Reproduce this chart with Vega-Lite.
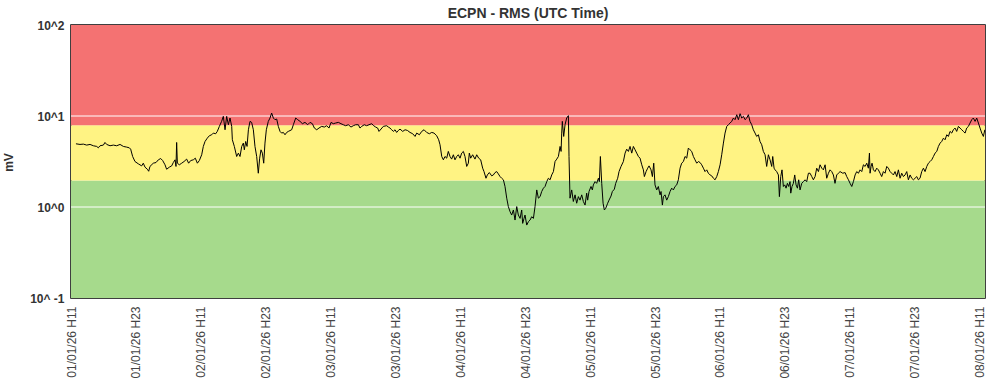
{
  "$schema": "https://vega.github.io/schema/vega-lite/v6.json",
  "autosize": {"type": "none"},
  "width": 914,
  "height": 273,
  "padding": {"left": 71, "top": 25, "right": 1, "bottom": 89},
  "background": "white",
  "title": {"text": "ECPN - RMS (UTC Time)", "fontSize": 14, "fontWeight": "bold", "color": "#333333", "font": "Liberation Sans", "offset": -2, "anchor": "middle"},
  "config": {
    "view": {"stroke": "#000000", "strokeWidth": 1.5},
    "axis": {"domain": false, "ticks": false, "grid": false, "labelFont": "Liberation Sans", "titleFont": "Liberation Sans"},
    "axisY": {
      "title": "mV", "titleFontSize": 12, "titleFontWeight": "bold", "titleColor": "#333333",
      "titleX": -63, "titleY": 137, "titleAlign": "center", "titleBaseline": "middle", "titleAngle": -90,
      "labelFontSize": 12, "labelFontWeight": "bold", "labelColor": "#333333", "labelPadding": 7, "labelFlush": false
    }
  },
  "datasets": {
    "bands": [
      {"lo": 0.1, "hi": 1.95, "zone": "green"},
      {"lo": 1.95, "hi": 7.9, "zone": "yellow"},
      {"lo": 7.9, "hi": 100, "zone": "red"}
    ],
    "grid": [{"g": 1}, {"g": 10}],
    "rms": [
      {"t":"2026-01-01T11:55Z","v":4.95},{"t":"2026-01-01T12:40Z","v":4.87},{"t":"2026-01-01T13:17Z","v":4.91},{"t":"2026-01-01T13:54Z","v":4.79},{"t":"2026-01-01T14:31Z","v":4.87},{"t":"2026-01-01T15:08Z","v":4.71},{"t":"2026-01-01T15:45Z","v":4.63},{"t":"2026-01-01T16:03Z","v":4.47},{"t":"2026-01-01T16:22Z","v":4.71},{"t":"2026-01-01T16:59Z","v":4.79},{"t":"2026-01-01T17:17Z","v":5.12},{"t":"2026-01-01T17:36Z","v":4.87},{"t":"2026-01-01T18:13Z","v":4.71},{"t":"2026-01-01T18:50Z","v":4.79},{"t":"2026-01-01T19:27Z","v":4.71},{"t":"2026-01-01T20:04Z","v":4.87},{"t":"2026-01-01T20:41Z","v":4.63},{"t":"2026-01-01T21:18Z","v":4.55},{"t":"2026-01-01T21:47Z","v":4.47},{"t":"2026-01-01T22:02Z","v":4.32},{"t":"2026-01-01T22:24Z","v":3.59},{"t":"2026-01-01T22:50Z","v":3.16},{"t":"2026-01-01T23:27Z","v":2.98},
      {"t":"2026-01-02T00:04Z","v":2.83},{"t":"2026-01-02T00:22Z","v":3.03},{"t":"2026-01-02T00:41Z","v":2.74},{"t":"2026-01-02T01:07Z","v":2.60},{"t":"2026-01-02T01:22Z","v":2.47},{"t":"2026-01-02T01:36Z","v":2.79},{"t":"2026-01-02T02:13Z","v":3.03},{"t":"2026-01-02T02:43Z","v":3.08},{"t":"2026-01-02T03:09Z","v":3.30},{"t":"2026-01-02T03:35Z","v":3.41},{"t":"2026-01-02T03:57Z","v":3.24},{"t":"2026-01-02T04:23Z","v":2.91},{"t":"2026-01-02T04:41Z","v":2.60},{"t":"2026-01-02T05:11Z","v":2.74},{"t":"2026-01-02T05:37Z","v":2.83},{"t":"2026-01-02T05:55Z","v":3.08},{"t":"2026-01-02T06:14Z","v":3.30},{"t":"2026-01-02T06:25Z","v":2.79},{"t":"2026-01-02T06:32Z","v":5.12},{"t":"2026-01-02T06:40Z","v":3.03},{"t":"2026-01-02T07:02Z","v":2.91},{"t":"2026-01-02T07:28Z","v":3.03},{"t":"2026-01-02T07:54Z","v":3.16},{"t":"2026-01-02T08:23Z","v":3.36},{"t":"2026-01-02T08:45Z","v":3.03},{"t":"2026-01-02T09:08Z","v":3.24},{"t":"2026-01-02T09:37Z","v":3.30},{"t":"2026-01-02T09:59Z","v":3.44},{"t":"2026-01-02T10:22Z","v":3.03},{"t":"2026-01-02T10:44Z","v":3.24},{"t":"2026-01-02T11:10Z","v":3.75},{"t":"2026-01-02T11:28Z","v":4.63},{"t":"2026-01-02T11:47Z","v":5.25},{"t":"2026-01-02T12:12Z","v":5.71},{"t":"2026-01-02T12:35Z","v":6.07},{"t":"2026-01-02T13:01Z","v":6.22},{"t":"2026-01-02T13:19Z","v":6.49},{"t":"2026-01-02T13:45Z","v":6.38},{"t":"2026-01-02T14:03Z","v":6.77},{"t":"2026-01-02T14:26Z","v":7.69},{"t":"2026-01-02T14:51Z","v":8.73},{"t":"2026-01-02T15:10Z","v":9.91},
      {"t":"2026-01-02T15:29Z","v":7.06},{"t":"2026-01-02T15:47Z","v":9.91},{"t":"2026-01-02T16:06Z","v":8.02},{"t":"2026-01-02T16:24Z","v":9.50},{"t":"2026-01-02T16:43Z","v":7.69},{"t":"2026-01-02T16:50Z","v":5.48},{"t":"2026-01-02T17:12Z","v":4.63},{"t":"2026-01-02T17:38Z","v":3.59},{"t":"2026-01-02T17:57Z","v":3.91},{"t":"2026-01-02T18:15Z","v":3.59},{"t":"2026-01-02T18:34Z","v":4.63},{"t":"2026-01-02T18:52Z","v":5.04},{"t":"2026-01-02T19:03Z","v":4.25},{"t":"2026-01-02T19:18Z","v":5.25},{"t":"2026-01-02T19:33Z","v":4.63},{"t":"2026-01-02T19:48Z","v":7.06},{"t":"2026-01-02T20:06Z","v":8.73},{"t":"2026-01-02T20:24Z","v":8.51},{"t":"2026-01-02T20:43Z","v":7.06},{"t":"2026-01-02T21:01Z","v":4.63},{"t":"2026-01-02T21:20Z","v":3.59},{"t":"2026-01-02T21:38Z","v":2.35},{"t":"2026-01-02T21:53Z","v":3.44},{"t":"2026-01-02T22:08Z","v":4.25},{"t":"2026-01-02T22:23Z","v":3.91},{"t":"2026-01-02T22:38Z","v":3.03},{"t":"2026-01-02T22:52Z","v":5.04},{"t":"2026-01-02T23:07Z","v":7.06},{"t":"2026-01-02T23:29Z","v":8.73},{"t":"2026-01-02T23:48Z","v":9.50},
      {"t":"2026-01-03T00:06Z","v":10.78},{"t":"2026-01-03T00:25Z","v":9.50},{"t":"2026-01-03T00:43Z","v":9.11},{"t":"2026-01-03T01:02Z","v":9.26},{"t":"2026-01-03T01:20Z","v":7.69},{"t":"2026-01-03T01:39Z","v":6.77},{"t":"2026-01-03T01:57Z","v":6.49},{"t":"2026-01-03T02:16Z","v":6.60},{"t":"2026-01-03T02:34Z","v":6.22},{"t":"2026-01-03T02:53Z","v":6.60},{"t":"2026-01-03T03:11Z","v":6.77},{"t":"2026-01-03T03:48Z","v":7.06},{"t":"2026-01-03T04:07Z","v":8.02},{"t":"2026-01-03T04:33Z","v":9.50},{"t":"2026-01-03T04:55Z","v":9.11},{"t":"2026-01-03T05:21Z","v":8.73},{"t":"2026-01-03T05:47Z","v":8.23},{"t":"2026-01-03T06:16Z","v":8.51},{"t":"2026-01-03T06:46Z","v":8.02},{"t":"2026-01-03T07:12Z","v":8.51},{"t":"2026-01-03T07:38Z","v":8.23},{"t":"2026-01-03T08:00Z","v":7.37},{"t":"2026-01-03T08:26Z","v":7.06},{"t":"2026-01-03T08:51Z","v":7.37},{"t":"2026-01-03T09:21Z","v":7.69},{"t":"2026-01-03T09:51Z","v":7.56},{"t":"2026-01-03T10:16Z","v":7.82},{"t":"2026-01-03T10:42Z","v":7.37},{"t":"2026-01-03T11:05Z","v":8.51},{"t":"2026-01-03T11:30Z","v":8.23},{"t":"2026-01-03T11:56Z","v":8.37},{"t":"2026-01-03T12:26Z","v":8.51},{"t":"2026-01-03T12:55Z","v":8.23},{"t":"2026-01-03T13:21Z","v":8.02},{"t":"2026-01-03T13:47Z","v":7.82},{"t":"2026-01-03T14:17Z","v":8.02},{"t":"2026-01-03T14:46Z","v":7.56},{"t":"2026-01-03T15:12Z","v":7.82},{"t":"2026-01-03T15:38Z","v":8.02},{"t":"2026-01-03T16:08Z","v":8.02},{"t":"2026-01-03T16:26Z","v":7.37},{"t":"2026-01-03T16:45Z","v":7.69},{"t":"2026-01-03T17:14Z","v":8.02},{"t":"2026-01-03T17:40Z","v":7.82},{"t":"2026-01-03T18:06Z","v":8.02},{"t":"2026-01-03T18:36Z","v":8.23},{"t":"2026-01-03T18:58Z","v":7.82},{"t":"2026-01-03T19:20Z","v":7.56},{"t":"2026-01-03T19:42Z","v":7.37},{"t":"2026-01-03T19:57Z","v":6.77},
      {"t":"2026-01-03T20:45Z","v":7.69},{"t":"2026-01-03T21:22Z","v":7.82},{"t":"2026-01-03T21:41Z","v":7.56},{"t":"2026-01-03T21:59Z","v":7.37},{"t":"2026-01-03T22:18Z","v":7.06},{"t":"2026-01-03T22:36Z","v":6.77},{"t":"2026-01-03T22:55Z","v":7.06},{"t":"2026-01-03T23:13Z","v":6.60},{"t":"2026-01-03T23:32Z","v":6.94},{"t":"2026-01-03T23:50Z","v":7.18},
      {"t":"2026-01-04T00:20Z","v":6.77},{"t":"2026-01-04T00:46Z","v":7.06},{"t":"2026-01-04T01:12Z","v":6.94},{"t":"2026-01-04T01:41Z","v":6.60},{"t":"2026-01-04T02:11Z","v":6.38},{"t":"2026-01-04T02:37Z","v":5.96},{"t":"2026-01-04T02:55Z","v":6.49},{"t":"2026-01-04T03:25Z","v":6.22},{"t":"2026-01-04T03:51Z","v":6.77},{"t":"2026-01-04T04:17Z","v":7.06},{"t":"2026-01-04T04:46Z","v":6.60},{"t":"2026-01-04T05:16Z","v":6.38},{"t":"2026-01-04T05:42Z","v":6.60},{"t":"2026-01-04T06:07Z","v":6.49},{"t":"2026-01-04T06:37Z","v":6.07},{"t":"2026-01-04T06:59Z","v":5.48},{"t":"2026-01-04T07:14Z","v":4.83},{"t":"2026-01-04T07:33Z","v":3.59},{"t":"2026-01-04T07:51Z","v":3.30},{"t":"2026-01-04T08:09Z","v":3.59},{"t":"2026-01-04T08:28Z","v":3.44},{"t":"2026-01-04T08:46Z","v":4.08},{"t":"2026-01-04T09:05Z","v":3.59},{"t":"2026-01-04T09:23Z","v":3.36},{"t":"2026-01-04T09:42Z","v":3.75},{"t":"2026-01-04T10:00Z","v":3.30},{"t":"2026-01-04T10:19Z","v":3.59},{"t":"2026-01-04T10:37Z","v":3.75},{"t":"2026-01-04T10:56Z","v":3.44},{"t":"2026-01-04T11:14Z","v":3.91},{"t":"2026-01-04T11:33Z","v":4.08},{"t":"2026-01-04T11:51Z","v":3.59},{"t":"2026-01-04T12:10Z","v":2.79},{"t":"2026-01-04T12:28Z","v":3.03},{"t":"2026-01-04T12:39Z","v":3.91},{"t":"2026-01-04T12:54Z","v":3.44},{"t":"2026-01-04T13:16Z","v":3.75},{"t":"2026-01-04T13:42Z","v":3.36},{"t":"2026-01-04T14:01Z","v":3.75},{"t":"2026-01-04T14:23Z","v":3.44},{"t":"2026-01-04T14:45Z","v":3.30},{"t":"2026-01-04T15:07Z","v":2.67},{"t":"2026-01-04T15:22Z","v":2.45},{"t":"2026-01-04T15:44Z","v":2.07},{"t":"2026-01-04T15:59Z","v":2.25},{"t":"2026-01-04T16:21Z","v":2.39},{"t":"2026-01-04T16:47Z","v":2.20},{"t":"2026-01-04T17:06Z","v":2.25},{"t":"2026-01-04T17:24Z","v":2.39},{"t":"2026-01-04T17:43Z","v":2.45},{"t":"2026-01-04T18:01Z","v":2.31},{"t":"2026-01-04T18:20Z","v":2.16},{"t":"2026-01-04T18:38Z","v":2.07},{"t":"2026-01-04T18:57Z","v":1.99},{"t":"2026-01-04T19:15Z","v":1.68},{"t":"2026-01-04T19:34Z","v":1.25},{"t":"2026-01-04T19:52Z","v":1.01},{"t":"2026-01-04T20:11Z","v":0.888},{"t":"2026-01-04T20:29Z","v":0.816},{"t":"2026-01-04T20:48Z","v":0.927},{"t":"2026-01-04T21:06Z","v":0.719},{"t":"2026-01-04T21:25Z","v":1.01},{"t":"2026-01-04T21:43Z","v":0.816},{"t":"2026-01-04T22:02Z","v":0.750},{"t":"2026-01-04T22:20Z","v":0.927},{"t":"2026-01-04T22:31Z","v":0.661},{"t":"2026-01-04T22:46Z","v":0.750},{"t":"2026-01-04T22:57Z","v":0.816},{"t":"2026-01-04T23:16Z","v":0.633},{"t":"2026-01-04T23:34Z","v":0.689},{"t":"2026-01-04T23:53Z","v":0.719},
      {"t":"2026-01-05T00:11Z","v":0.782},{"t":"2026-01-05T00:30Z","v":0.750},{"t":"2026-01-05T00:48Z","v":1.01},{"t":"2026-01-05T01:07Z","v":1.54},{"t":"2026-01-05T01:25Z","v":1.25},{"t":"2026-01-05T01:44Z","v":1.30},{"t":"2026-01-05T02:02Z","v":1.48},{"t":"2026-01-05T02:21Z","v":1.61},{"t":"2026-01-05T02:39Z","v":1.68},{"t":"2026-01-05T02:58Z","v":1.90},{"t":"2026-01-05T03:16Z","v":2.07},{"t":"2026-01-05T03:35Z","v":1.99},{"t":"2026-01-05T03:53Z","v":2.25},{"t":"2026-01-05T04:12Z","v":2.45},{"t":"2026-01-05T04:30Z","v":3.16},{"t":"2026-01-05T04:49Z","v":3.36},{"t":"2026-01-05T05:07Z","v":3.59},{"t":"2026-01-05T05:26Z","v":4.63},{"t":"2026-01-05T05:37Z","v":4.08},{"t":"2026-01-05T05:44Z","v":6.49},{"t":"2026-01-05T05:51Z","v":8.73},{"t":"2026-01-05T06:06Z","v":5.96},{"t":"2026-01-05T06:21Z","v":8.02},{"t":"2026-01-05T06:39Z","v":9.50},{"t":"2026-01-05T06:58Z","v":10.08},{"t":"2026-01-05T07:05Z","v":3.59},{"t":"2026-01-05T07:16Z","v":1.25},{"t":"2026-01-05T07:35Z","v":1.54},{"t":"2026-01-05T07:53Z","v":1.15},{"t":"2026-01-05T08:12Z","v":1.36},{"t":"2026-01-05T08:30Z","v":1.10},{"t":"2026-01-05T08:49Z","v":1.30},{"t":"2026-01-05T09:07Z","v":1.19},{"t":"2026-01-05T09:26Z","v":1.36},{"t":"2026-01-05T09:44Z","v":1.15},{"t":"2026-01-05T10:03Z","v":1.05},{"t":"2026-01-05T10:21Z","v":1.42},{"t":"2026-01-05T10:32Z","v":1.19},{"t":"2026-01-05T10:47Z","v":1.48},{"t":"2026-01-05T11:09Z","v":1.68},{"t":"2026-01-05T11:24Z","v":1.54},{"t":"2026-01-05T11:35Z","v":1.75},{"t":"2026-01-05T11:54Z","v":1.90},{"t":"2026-01-05T12:12Z","v":1.82},{"t":"2026-01-05T12:31Z","v":2.07},{"t":"2026-01-05T12:42Z","v":1.90},{"t":"2026-01-05T12:53Z","v":3.59},{"t":"2026-01-05T13:08Z","v":1.82},{"t":"2026-01-05T13:23Z","v":1.10},{"t":"2026-01-05T13:37Z","v":0.927},{"t":"2026-01-05T13:52Z","v":0.967},{"t":"2026-01-05T14:14Z","v":1.10},{"t":"2026-01-05T14:29Z","v":1.19},{"t":"2026-01-05T14:51Z","v":1.32},{"t":"2026-01-05T15:06Z","v":1.48},{"t":"2026-01-05T15:28Z","v":1.57},{"t":"2026-01-05T15:43Z","v":1.82},{"t":"2026-01-05T16:05Z","v":2.07},{"t":"2026-01-05T16:20Z","v":2.45},{"t":"2026-01-05T16:42Z","v":2.79},{"t":"2026-01-05T17:08Z","v":3.16},{"t":"2026-01-05T17:27Z","v":3.91},{"t":"2026-01-05T17:45Z","v":4.32},{"t":"2026-01-05T18:04Z","v":4.08},{"t":"2026-01-05T18:22Z","v":4.63},{"t":"2026-01-05T18:41Z","v":3.91},{"t":"2026-01-05T18:59Z","v":4.63},{"t":"2026-01-05T19:18Z","v":4.25},{"t":"2026-01-05T19:36Z","v":3.91},{"t":"2026-01-05T19:55Z","v":3.59},{"t":"2026-01-05T20:13Z","v":3.44},{"t":"2026-01-05T20:32Z","v":2.91},{"t":"2026-01-05T20:50Z","v":2.56},{"t":"2026-01-05T21:01Z","v":2.16},{"t":"2026-01-05T21:20Z","v":2.45},{"t":"2026-01-05T21:38Z","v":2.67},{"t":"2026-01-05T21:53Z","v":2.83},{"t":"2026-01-05T22:15Z","v":2.56},{"t":"2026-01-05T22:30Z","v":2.16},{"t":"2026-01-05T22:45Z","v":3.03},{"t":"2026-01-05T22:59Z","v":1.75},{"t":"2026-01-05T23:18Z","v":1.54},{"t":"2026-01-05T23:36Z","v":1.68},{"t":"2026-01-05T23:55Z","v":1.36},
      {"t":"2026-01-06T00:06Z","v":1.48},{"t":"2026-01-06T00:21Z","v":1.05},{"t":"2026-01-06T00:32Z","v":1.30},{"t":"2026-01-06T00:50Z","v":1.36},{"t":"2026-01-06T01:09Z","v":1.19},{"t":"2026-01-06T01:27Z","v":1.30},{"t":"2026-01-06T01:46Z","v":1.48},{"t":"2026-01-06T02:04Z","v":1.61},{"t":"2026-01-06T02:23Z","v":1.54},{"t":"2026-01-06T02:41Z","v":1.68},{"t":"2026-01-06T03:00Z","v":1.75},{"t":"2026-01-06T03:18Z","v":1.99},{"t":"2026-01-06T03:37Z","v":2.67},{"t":"2026-01-06T03:55Z","v":3.03},{"t":"2026-01-06T04:14Z","v":3.16},{"t":"2026-01-06T04:32Z","v":3.59},{"t":"2026-01-06T04:51Z","v":3.44},{"t":"2026-01-06T05:09Z","v":4.44},{"t":"2026-01-06T05:28Z","v":4.25},{"t":"2026-01-06T05:46Z","v":4.08},{"t":"2026-01-06T06:05Z","v":3.59},{"t":"2026-01-06T06:23Z","v":3.30},{"t":"2026-01-06T06:42Z","v":3.03},{"t":"2026-01-06T07:00Z","v":3.16},{"t":"2026-01-06T07:19Z","v":3.08},{"t":"2026-01-06T07:37Z","v":2.91},{"t":"2026-01-06T07:56Z","v":2.67},{"t":"2026-01-06T08:14Z","v":2.45},{"t":"2026-01-06T08:33Z","v":2.56},{"t":"2026-01-06T08:51Z","v":2.35},{"t":"2026-01-06T09:10Z","v":2.25},{"t":"2026-01-06T09:28Z","v":2.20},{"t":"2026-01-06T09:47Z","v":2.07},{"t":"2026-01-06T10:05Z","v":1.99},{"t":"2026-01-06T10:24Z","v":2.16},{"t":"2026-01-06T10:42Z","v":2.45},{"t":"2026-01-06T11:01Z","v":2.91},{"t":"2026-01-06T11:19Z","v":3.75},{"t":"2026-01-06T11:38Z","v":5.04},{"t":"2026-01-06T11:56Z","v":6.49},{"t":"2026-01-06T12:15Z","v":7.69},{"t":"2026-01-06T12:33Z","v":8.02},{"t":"2026-01-06T12:52Z","v":8.37},{"t":"2026-01-06T13:10Z","v":8.73},{"t":"2026-01-06T13:29Z","v":9.50},{"t":"2026-01-06T13:47Z","v":9.11},{"t":"2026-01-06T14:06Z","v":10.33},{"t":"2026-01-06T14:24Z","v":9.11},{"t":"2026-01-06T14:43Z","v":10.60},{"t":"2026-01-06T15:01Z","v":9.50},{"t":"2026-01-06T15:20Z","v":9.91},{"t":"2026-01-06T15:38Z","v":9.11},{"t":"2026-01-06T15:57Z","v":9.50},{"t":"2026-01-06T16:15Z","v":10.33},{"t":"2026-01-06T16:33Z","v":8.73},{"t":"2026-01-06T16:52Z","v":8.02},{"t":"2026-01-06T17:10Z","v":7.06},{"t":"2026-01-06T17:29Z","v":6.49},{"t":"2026-01-06T17:47Z","v":5.96},{"t":"2026-01-06T18:06Z","v":6.22},{"t":"2026-01-06T18:24Z","v":5.25},{"t":"2026-01-06T18:43Z","v":4.83},{"t":"2026-01-06T19:01Z","v":4.08},{"t":"2026-01-06T19:20Z","v":3.75},{"t":"2026-01-06T19:38Z","v":2.79},{"t":"2026-01-06T19:57Z","v":3.75},{"t":"2026-01-06T20:15Z","v":3.30},{"t":"2026-01-06T20:34Z","v":2.79},{"t":"2026-01-06T20:45Z","v":3.59},{"t":"2026-01-06T21:00Z","v":2.67},{"t":"2026-01-06T21:11Z","v":2.56},{"t":"2026-01-06T21:29Z","v":2.45},{"t":"2026-01-06T21:48Z","v":2.25},{"t":"2026-01-06T21:59Z","v":1.30},{"t":"2026-01-06T22:14Z","v":2.16},{"t":"2026-01-06T22:28Z","v":2.56},{"t":"2026-01-06T22:43Z","v":1.68},{"t":"2026-01-06T22:58Z","v":1.75},{"t":"2026-01-06T23:13Z","v":1.61},{"t":"2026-01-06T23:28Z","v":1.82},{"t":"2026-01-06T23:42Z","v":1.68},{"t":"2026-01-06T23:57Z","v":1.90},
      {"t":"2026-01-07T00:05Z","v":1.42},{"t":"2026-01-07T00:19Z","v":1.68},{"t":"2026-01-07T00:34Z","v":1.82},{"t":"2026-01-07T00:49Z","v":2.25},{"t":"2026-01-07T01:04Z","v":1.75},{"t":"2026-01-07T01:19Z","v":1.61},{"t":"2026-01-07T01:33Z","v":1.99},{"t":"2026-01-07T01:48Z","v":1.54},{"t":"2026-01-07T02:07Z","v":1.82},{"t":"2026-01-07T02:25Z","v":1.90},{"t":"2026-01-07T02:44Z","v":1.99},{"t":"2026-01-07T03:02Z","v":1.90},{"t":"2026-01-07T03:21Z","v":2.35},{"t":"2026-01-07T03:39Z","v":2.35},{"t":"2026-01-07T03:58Z","v":2.16},{"t":"2026-01-07T04:16Z","v":1.99},{"t":"2026-01-07T04:35Z","v":2.16},{"t":"2026-01-07T04:53Z","v":2.67},{"t":"2026-01-07T05:12Z","v":2.45},{"t":"2026-01-07T05:30Z","v":2.91},{"t":"2026-01-07T05:49Z","v":2.67},{"t":"2026-01-07T06:07Z","v":2.56},{"t":"2026-01-07T06:26Z","v":2.91},{"t":"2026-01-07T06:44Z","v":2.07},{"t":"2026-01-07T07:03Z","v":2.35},{"t":"2026-01-07T07:21Z","v":2.56},{"t":"2026-01-07T07:40Z","v":2.45},{"t":"2026-01-07T07:58Z","v":2.25},{"t":"2026-01-07T08:16Z","v":1.82},{"t":"2026-01-07T08:35Z","v":2.25},{"t":"2026-01-07T08:53Z","v":2.35},{"t":"2026-01-07T09:12Z","v":2.45},{"t":"2026-01-07T09:42Z","v":2.35},{"t":"2026-01-07T10:08Z","v":2.39},{"t":"2026-01-07T10:26Z","v":2.16},{"t":"2026-01-07T10:45Z","v":1.99},{"t":"2026-01-07T11:03Z","v":1.82},{"t":"2026-01-07T11:22Z","v":1.68},{"t":"2026-01-07T11:40Z","v":1.90},{"t":"2026-01-07T11:59Z","v":2.25},{"t":"2026-01-07T12:17Z","v":2.45},{"t":"2026-01-07T12:36Z","v":2.35},{"t":"2026-01-07T12:54Z","v":2.56},{"t":"2026-01-07T13:13Z","v":2.45},{"t":"2026-01-07T13:31Z","v":2.91},{"t":"2026-01-07T13:50Z","v":2.79},{"t":"2026-01-07T14:08Z","v":3.03},{"t":"2026-01-07T14:26Z","v":2.67},{"t":"2026-01-07T14:38Z","v":3.91},{"t":"2026-01-07T14:45Z","v":2.35},{"t":"2026-01-07T14:56Z","v":2.79},{"t":"2026-01-07T15:07Z","v":3.03},{"t":"2026-01-07T15:22Z","v":2.56},{"t":"2026-01-07T15:40Z","v":2.45},{"t":"2026-01-07T15:59Z","v":2.67},{"t":"2026-01-07T16:17Z","v":2.56},{"t":"2026-01-07T16:36Z","v":2.35},{"t":"2026-01-07T16:54Z","v":2.16},{"t":"2026-01-07T17:13Z","v":2.45},{"t":"2026-01-07T17:31Z","v":2.35},{"t":"2026-01-07T17:50Z","v":2.79},{"t":"2026-01-07T18:08Z","v":2.67},{"t":"2026-01-07T18:27Z","v":2.45},{"t":"2026-01-07T18:45Z","v":2.35},{"t":"2026-01-07T19:04Z","v":2.25},{"t":"2026-01-07T19:22Z","v":2.45},{"t":"2026-01-07T19:41Z","v":2.16},{"t":"2026-01-07T19:59Z","v":2.56},{"t":"2026-01-07T20:18Z","v":2.07},{"t":"2026-01-07T20:36Z","v":2.35},{"t":"2026-01-07T20:55Z","v":2.16},{"t":"2026-01-07T21:13Z","v":2.25},{"t":"2026-01-07T21:32Z","v":2.45},{"t":"2026-01-07T21:50Z","v":1.99},{"t":"2026-01-07T22:09Z","v":2.25},{"t":"2026-01-07T22:27Z","v":2.07},{"t":"2026-01-07T22:46Z","v":1.99},{"t":"2026-01-07T23:04Z","v":2.07},{"t":"2026-01-07T23:23Z","v":2.16},{"t":"2026-01-07T23:41Z","v":1.99},{"t":"2026-01-07T23:59Z","v":2.07},
      {"t":"2026-01-08T00:18Z","v":2.45},{"t":"2026-01-08T00:37Z","v":2.67},{"t":"2026-01-08T00:55Z","v":2.45},{"t":"2026-01-08T01:14Z","v":2.79},{"t":"2026-01-08T01:32Z","v":3.03},{"t":"2026-01-08T01:51Z","v":3.16},{"t":"2026-01-08T02:09Z","v":3.30},{"t":"2026-01-08T02:28Z","v":3.59},{"t":"2026-01-08T02:46Z","v":3.91},{"t":"2026-01-08T03:05Z","v":4.08},{"t":"2026-01-08T03:23Z","v":4.63},{"t":"2026-01-08T03:42Z","v":5.04},{"t":"2026-01-08T04:00Z","v":5.25},{"t":"2026-01-08T04:19Z","v":5.71},{"t":"2026-01-08T04:37Z","v":5.48},{"t":"2026-01-08T04:56Z","v":6.22},{"t":"2026-01-08T05:14Z","v":5.96},{"t":"2026-01-08T05:32Z","v":6.77},{"t":"2026-01-08T05:51Z","v":6.49},{"t":"2026-01-08T06:09Z","v":7.06},{"t":"2026-01-08T06:28Z","v":7.37},{"t":"2026-01-08T06:46Z","v":6.77},{"t":"2026-01-08T07:05Z","v":7.69},{"t":"2026-01-08T07:23Z","v":7.37},{"t":"2026-01-08T07:42Z","v":7.06},{"t":"2026-01-08T08:00Z","v":6.77},{"t":"2026-01-08T08:19Z","v":6.49},{"t":"2026-01-08T08:37Z","v":7.37},{"t":"2026-01-08T08:56Z","v":7.69},{"t":"2026-01-08T09:14Z","v":8.37},{"t":"2026-01-08T09:33Z","v":9.11},{"t":"2026-01-08T09:51Z","v":9.50},{"t":"2026-01-08T10:10Z","v":8.73},{"t":"2026-01-08T10:28Z","v":9.50},{"t":"2026-01-08T10:47Z","v":8.37},{"t":"2026-01-08T11:05Z","v":7.37},{"t":"2026-01-08T11:24Z","v":6.49},{"t":"2026-01-08T11:42Z","v":5.96},{"t":"2026-01-08T11:58Z","v":7.06}
    ]
  },
  "layer": [
    {
      "data": {"name": "bands"},
      "mark": {"type": "rect"},
      "encoding": {
        "y": {"field": "lo", "type": "quantitative", "title": "mV", "scale": {"type": "log", "domain": [0.1, 100]},
          "axis": {"title": "mV", "values": [0.1, 1, 10, 100], "labelExpr": "datum.value >= 50 ? '10^2' : datum.value >= 5 ? '10^1' : datum.value >= 0.5 ? '10^0' : '10^ -1'"}},
        "y2": {"field": "hi"},
        "color": {"field": "zone", "type": "nominal", "scale": {"domain": ["green", "yellow", "red"], "range": ["#a6da8c", "#fff383", "#f47272"]}, "legend": null}
      }
    },
    {
      "data": {"name": "grid"},
      "mark": {"type": "rule", "color": "#ffffff", "strokeWidth": 1},
      "encoding": {
        "y": {"field": "g", "type": "quantitative", "title": "mV",
          "axis": {"title": "mV", "values": [0.1, 1, 10, 100], "labelExpr": "datum.value >= 50 ? '10^2' : datum.value >= 5 ? '10^1' : datum.value >= 0.5 ? '10^0' : '10^ -1'"}}
      }
    },
    {
      "data": {"name": "rms"},
      "mark": {"type": "line", "color": "#000000", "strokeWidth": 1, "clip": true},
      "encoding": {
        "x": {
          "field": "t", "type": "temporal",
          "scale": {"type": "utc", "domain": [{"year": 2026, "month": 1, "date": 1, "hours": 11, "utc": true}, {"year": 2026, "month": 1, "date": 8, "hours": 12, "utc": true}]},
          "axis": {
            "title": null,
            "labelExpr": "utcFormat(datum.value, '%d/%m/%y H%H')",
            "labelAngle": -90, "labelFontSize": 12, "labelColor": "#444444", "labelPadding": 8, "labelFlush": false, "labelOverlap": false,
            "values": [
              {"year": 2026, "month": 1, "date": 1, "hours": 11, "utc": true},
              {"year": 2026, "month": 1, "date": 1, "hours": 23, "utc": true},
              {"year": 2026, "month": 1, "date": 2, "hours": 11, "utc": true},
              {"year": 2026, "month": 1, "date": 2, "hours": 23, "utc": true},
              {"year": 2026, "month": 1, "date": 3, "hours": 11, "utc": true},
              {"year": 2026, "month": 1, "date": 3, "hours": 23, "utc": true},
              {"year": 2026, "month": 1, "date": 4, "hours": 11, "utc": true},
              {"year": 2026, "month": 1, "date": 4, "hours": 23, "utc": true},
              {"year": 2026, "month": 1, "date": 5, "hours": 11, "utc": true},
              {"year": 2026, "month": 1, "date": 5, "hours": 23, "utc": true},
              {"year": 2026, "month": 1, "date": 6, "hours": 11, "utc": true},
              {"year": 2026, "month": 1, "date": 6, "hours": 23, "utc": true},
              {"year": 2026, "month": 1, "date": 7, "hours": 11, "utc": true},
              {"year": 2026, "month": 1, "date": 7, "hours": 23, "utc": true},
              {"year": 2026, "month": 1, "date": 8, "hours": 11, "utc": true}
            ]
          }
        },
        "y": {"field": "v", "type": "quantitative", "title": "mV",
          "axis": {"title": "mV", "values": [0.1, 1, 10, 100], "labelExpr": "datum.value >= 50 ? '10^2' : datum.value >= 5 ? '10^1' : datum.value >= 0.5 ? '10^0' : '10^ -1'"}}
      }
    }
  ]
}
